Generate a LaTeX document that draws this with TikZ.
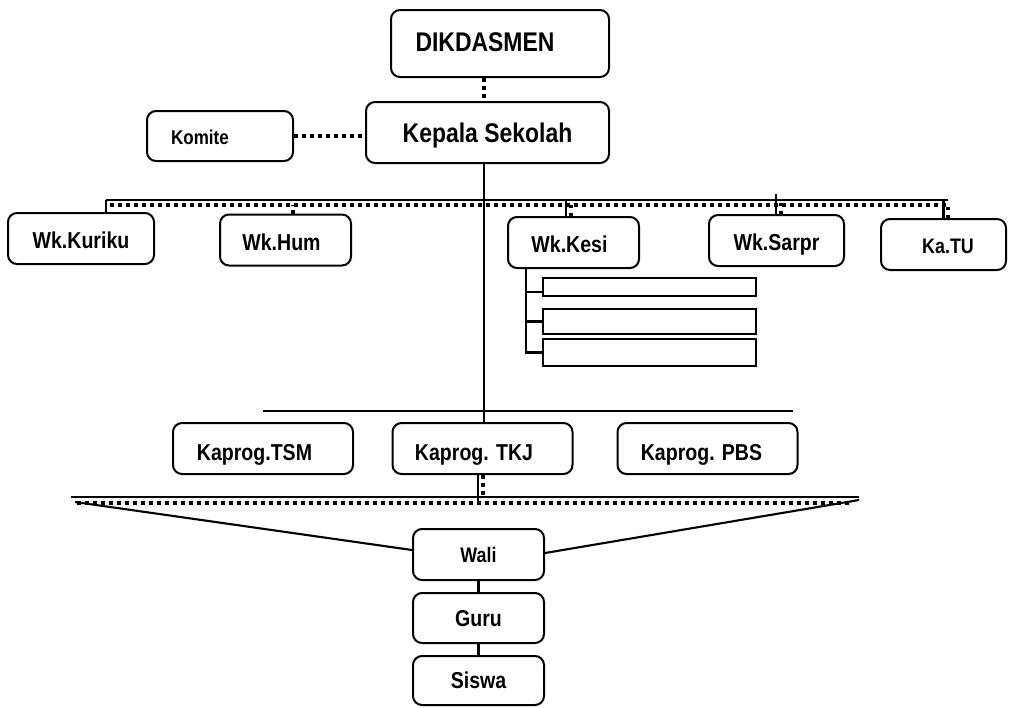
\documentclass[tikz,border=0pt]{standalone}
\usepackage{fontspec}
\setmainfont{Liberation Sans}[FakeStretch=0.85]
\newcommand{\lft}[2]{\kern#1\kern#1#2}
\newcommand{\fs}[1]{\fontsize{#1}{#1}\selectfont}

\begin{document}
\begin{tikzpicture}[x=1pt,y=-1pt,
	box/.style={draw,rounded corners=9pt,line width=2pt,inner sep=0pt,
		font=\bfseries\fs{23},text height=20.5pt,text depth=0pt},
	slot/.style={draw,line width=2.4pt,inner sep=0pt,minimum width=213pt},
	ln/.style={line width=2.1pt},
	dotln/.style={line width=3.5pt,dash pattern=on 3.5pt off 4.5pt}]
	\useasboundingbox (0,0) rectangle (1009,707);
	% top
	\node[box,minimum width=218pt,minimum height=67pt,font=\bfseries\fs{27},text height=16.3pt] (dik) at (500,43.5) {\lft{-15pt}{DIKDASMEN}};
	\node[box,minimum width=243pt,minimum height=61pt,font=\bfseries\fs{27},text height=20.3pt] (kep) at (487.5,132.5) {Kepala Sekolah};
	\node[box,minimum width=146pt,minimum height=50pt,font=\bfseries\fs{20},text height=17.3pt] (kom) at (220,136) {\lft{-20pt}{Komite}};
	\draw[dotln] ([xshift=-16pt]dik.south) -- ([xshift=-16pt]dik.south |- kep.north);
	\draw[dotln] (kom.east) -- (kom.east -| kep.west);
	% wakil
	\foreach \n/\x/\y/\w/\t in {
			kur/81/238.5/146/Wk.Kuriku,
			hum/285.5/240/131/\lft{-4pt}{Wk.Hum},
			kesi/573.5/242.5/131/\lft{-4pt}{Wk.Kesi},
			sar/776.5/240.5/135/Wk.Sarpr
			} {
		\node[box,minimum width=\w pt,minimum height=51pt] (\n) at (\x,\y) {\t};
	};
	\node[box,minimum width=125pt,minimum height=51pt,font=\bfseries\fs{21},text height=18pt] (katu) at (943.5,244.5) {\lft{4.5pt}{Ka.TU}};
	\coordinate (tl) at (106,200);
	\coordinate (tr) at (948,200);
	\draw[ln] (tl) -- (tr);
	\draw[dotln] (110,205) -- (948,205);
	\draw[ln] (tl) -- (tl |- kur.north);
	\draw[dotln] ([xshift=7.5pt]hum.north) -- +(0,-9);
	\draw[ln] ([xshift=-7.5pt]kesi.north) -- ([xshift=-7.5pt]kesi.north |- tl);
	\draw[dotln] ([xshift=-2.5pt]kesi.north) -- +(0,-12);
	\draw[ln] ([xshift=-0.5pt]sar.north) -- +(0,-20);
	\draw[dotln] ([xshift=4.5pt]sar.north) -- +(0,-16);
	\draw[ln] (katu.north) -- (katu.north |- tl);
	\draw[dotln] ([xshift=4.5pt]katu.north) -- +(0,-14);
	% bidang kesiswaan
	\node[slot,minimum height=18pt] (s1) at (649.5,287) {};
	\node[slot,minimum height=25pt] (s2) at (649.5,321.5) {};
	\node[slot,minimum height=27pt] (s3) at (649.5,352.5) {};
	\coordinate (kv) at ([xshift=-47.5pt]kesi.south);
	\draw[ln] (kv) |- ([yshift=-5pt]s1.west);
	\draw[ln] (kv) |- (s2.west);
	\draw[ln] (kv) |- (s3.west);
	% kaprog
	\foreach \n/\x/\d/\t in {
			tsm/263/-8.5pt/Kaprog.TSM,
			tkj/482.5/-8.5pt/Kaprog. TKJ,
			pbs/707.5/-6pt/Kaprog. PBS
			} {
		\node[box,minimum width=180pt,minimum height=51pt,text height=24.5pt] (\n) at (\x,448.5) {\lft{\d}{\t}};
	};
	\draw[ln] ([xshift=-3.5pt]kep.south) -- ([xshift=-3.5pt]kep.south |- tkj.north);
	\coordinate (ml) at (263,411);
	\coordinate (mr) at (793,411);
	\draw[ln] (ml) -- (mr);
	% wali, guru, siswa
	\node[box,minimum width=131pt,minimum height=51pt,font=\bfseries\fs{21},text height=15pt] (wali) at (478.5,554.5) {Wali};
	\node[box,minimum width=131pt,minimum height=50pt,text height=16.5pt] (guru) at (478.5,618) {Guru};
	\node[box,minimum width=131pt,minimum height=49pt,text height=16.5pt] (siswa) at (478.5,680.5) {Siswa};
	\coordinate (bl) at (71,497);
	\coordinate (br) at (859,497);
	\draw[ln] (bl) -- (br);
	\draw[dotln] (77,503) -- (851,503);
	\draw[ln] ([xshift=-4.5pt]tkj.south) -- +(0,28);
	\draw[dotln] ([xshift=0.5pt]tkj.south) -- +(0,22);
	\draw[ln] (75,502) -- ([yshift=4.5pt]wali.west);
	\draw[ln] (859,500) -- ([yshift=1.5pt]wali.east);
	\draw[ln] (wali) -- (guru);
	\draw[ln] (guru) -- (siswa);
\end{tikzpicture}
\end{document}
